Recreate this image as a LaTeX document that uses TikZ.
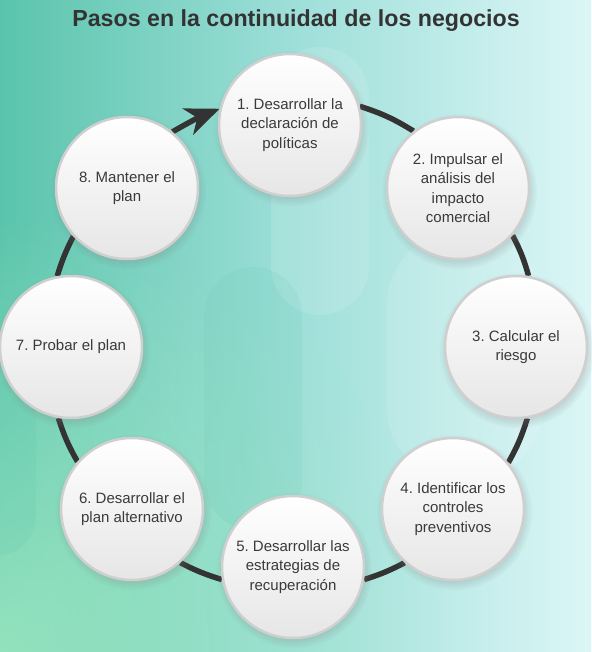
\documentclass[tikz,border=0pt]{standalone}
\usepackage{fontspec}
\setmainfont{Liberation Sans}
\usetikzlibrary{arrows.meta,shadows,backgrounds,fadings}
\frenchspacing

\definecolor{bgleft}{HTML}{5AC4AC}
\definecolor{bgmid}{HTML}{9EDFD9}
\definecolor{bgright}{HTML}{DCF6F7}
\definecolor{bgmint}{HTML}{A2EAC2}
\definecolor{ringgray}{HTML}{333333}
\definecolor{rimgray}{HTML}{CFCFCF}
\definecolor{stagebot}{HTML}{E6E6E6}
\definecolor{inkgray}{HTML}{3A3A3A}
\tikzfading[name=mintglow, inner color=transparent!0, outer color=transparent!100]

\begin{document}
\begin{tikzpicture}[x=1pt, y=1pt,
  stage/.style={circle, minimum size=142pt, inner sep=0pt, draw=rimgray, line width=2.5pt,
    top color=white, bottom color=stagebot, align=center, text=inkgray,
    font=\fontsize{15}{19.5}\selectfont,
    circular drop shadow={shadow xshift=1pt, shadow yshift=-3pt, opacity=0.3, fill=black!50}},
  ring/.style={draw=ringgray, line width=5.5pt},
  ringarrow/.style={ring, -{Stealth[length=34pt, width=28pt, inset=10pt]}},
  pill/.style={rounded corners=#1, fill=white, opacity=0.12},
  heading/.style={font=\fontsize{23.2}{27}\selectfont\bfseries, text=ringgray}]
\useasboundingbox (0,0) rectangle (591,-652);

% Title
\node[heading] (title) at (296,-21) {Pasos en la continuidad de los negocios};

% Steps
\node[stage] (policy) at (290,-125) {1. Desarrollar la\\declaración de\\políticas};
\node[stage] (impact) at (458,-188) {2. Impulsar el\\análisis del\\impacto\\comercial};
\node[stage] (risk) at (516,-347) {3. Calcular el\\riesgo};
\node[stage] (controls) at (453,-509) {4. Identificar los\\controles\\preventivos};
\node[stage] (recovery) at (293,-567) {5. Desarrollar las\\estrategias de\\recuperación};
\node[stage] (altplan) at (132,-509) {6. Desarrollar el\\plan alternativo};
\node[stage] (testing) at (71,-347) {7. Probar el plan};
\node[stage] (maintain) at (127,-188) {8. Mantener el\\plan};

\begin{scope}[on background layer]
% Background
\fill[left color=bgleft, right color=bgright, middle color=bgmid] (0,0) rectangle (591,-652);
\begin{scope}
\clip (0,0) rectangle (591,-652);
\fill[bgmint, path fading=mintglow, opacity=0.8] (-440,-212) rectangle (440,-1092);
\end{scope}
\fill[pill=49pt] (271,-47) rectangle (369,-315);
\fill[pill=49pt, fill=bgleft, opacity=0.12] (204,-267) rectangle (302,-530);
\fill[pill=78pt] (386,-230) rectangle (543,-483);
\fill[pill=38pt, fill=bgleft, opacity=0.15] (-40,-380) rectangle (36,-555);

% Cycle
\draw[ring] (policy.15) to[bend left=7] (impact.128);
\draw[ring] (impact.-41) to[bend left=6] (risk.80);
\draw[ring] (risk.-81) to[bend left=6] (controls.40);
\draw[ring] (controls.-132) to[bend left=5] (recovery.-10);
\draw[ring] (recovery.-170) to[bend left=5] (altplan.-48);
\draw[ring] (altplan.139) to[bend left=6] (testing.-100);
\draw[ring] (testing.101) to[bend left=5] (maintain.222);
\draw[ringarrow] (maintain.51) to[bend left=4] (policy.167);
\end{scope}

\end{tikzpicture}
\end{document}
